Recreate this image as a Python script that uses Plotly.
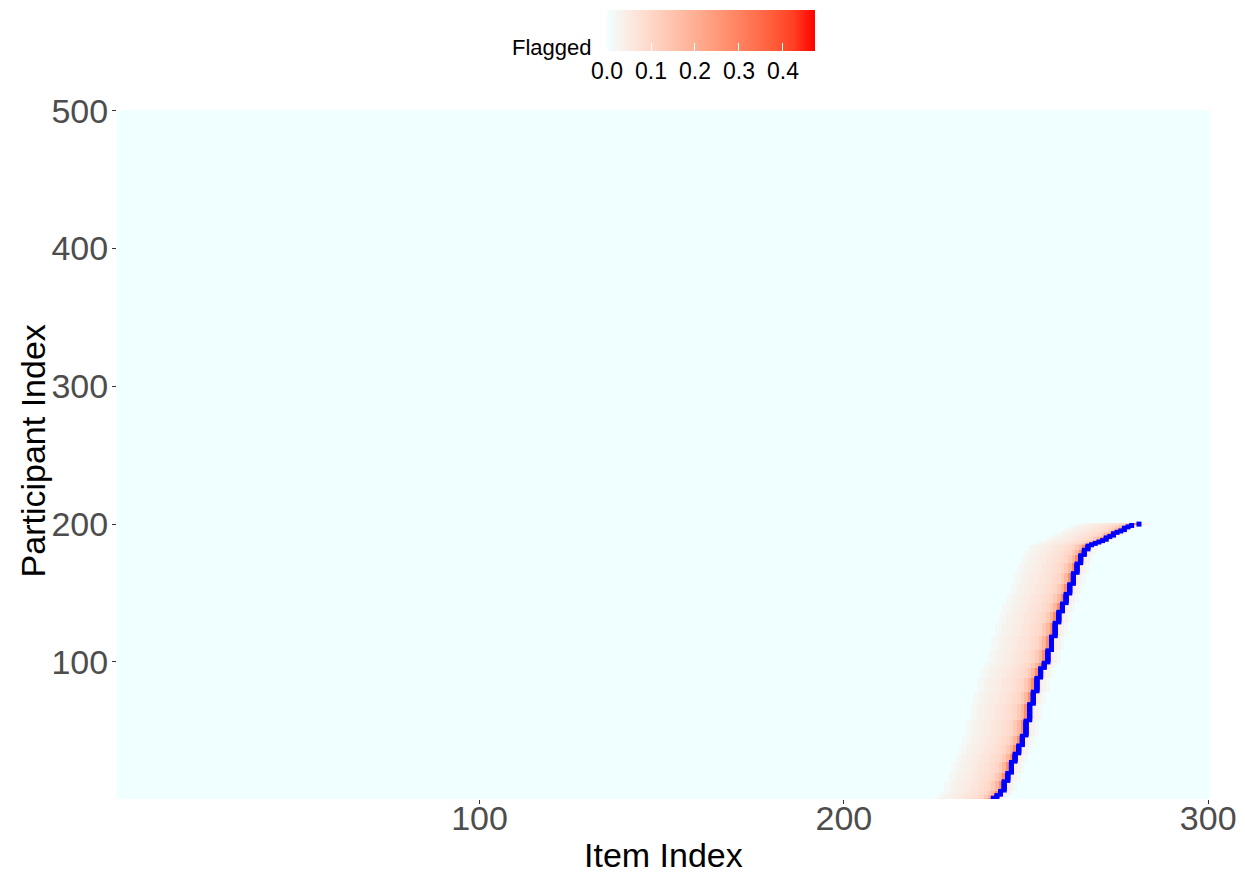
import numpy as np
import plotly.graph_objects as go

n_items = 300
n_participants = 500

# change point (item index) for participants 1..200 (blue marks)
change_points = [
    241,242,242,243,243,243,244,244,244,244,
    244,244,244,245,245,245,245,245,245,246,
    246,246,246,246,246,246,246,247,247,247,
    247,247,247,248,248,248,248,248,248,249,
    249,249,249,249,249,249,250,250,250,250,
    250,250,250,250,250,250,250,251,251,251,
    251,251,251,251,251,251,251,251,251,252,
    252,252,252,252,252,252,252,252,253,253,
    253,253,253,253,253,253,253,253,254,254,
    254,254,254,254,254,255,255,255,255,256,
    256,256,256,256,256,256,256,256,257,257,
    257,257,257,257,257,257,257,257,258,258,
    258,258,258,258,258,258,258,258,259,259,
    259,259,259,259,259,259,260,260,260,260,
    260,260,261,261,261,261,261,261,261,262,
    262,262,262,262,262,262,263,263,263,263,
    263,263,263,263,264,264,264,264,264,264,
    264,265,265,265,265,265,265,266,266,266,
    266,267,267,267,268,269,270,271,272,272,
    273,274,274,275,276,277,277,278,279,281,
]

# flagged proportion by offset from the change point (item - change point)
profile_offsets = [-16,-15,-14,-13,-12,-11,-10,-9,-8,-7,-6,-5,-4,-3,-2,-1,0,1,2,3]
profile_values = [0.015,0.02,0.03,0.035,0.04,0.045,0.05,0.06,0.065,0.07,0.08,0.09,0.1,0.13,0.18,0.28,0.35,0.05,0.03,0.015]

z = np.zeros((n_participants, n_items))
for i, cp in enumerate(change_points):
    for off, v in zip(profile_offsets, profile_values):
        j = cp + off - 1
        if 0 <= j < n_items:
            z[i, j] = v

items = list(range(1, n_items + 1))
participants = list(range(1, n_participants + 1))

# Lab-space gradient azure -> red (like ggplot scale_fill_gradient)
def srgb_to_lab(rgb):
    c = np.array(rgb) / 255.0
    c = np.where(c <= 0.04045, c / 12.92, ((c + 0.055) / 1.055) ** 2.4)
    M = np.array([[0.4124, 0.3576, 0.1805], [0.2126, 0.7152, 0.0722], [0.0193, 0.1192, 0.9505]])
    xyz = M @ c / np.array([0.95047, 1.0, 1.08883])
    f = np.where(xyz > 0.008856, np.cbrt(xyz), 7.787 * xyz + 16 / 116)
    return np.array([116 * f[1] - 16, 500 * (f[0] - f[1]), 200 * (f[1] - f[2])])

def lab_to_srgb(lab):
    L, a, b = lab
    fy = (L + 16) / 116
    fx = fy + a / 500
    fz = fy - b / 200
    f = np.array([fx, fy, fz])
    xyz = np.where(f ** 3 > 0.008856, f ** 3, (f - 16 / 116) / 7.787) * np.array([0.95047, 1.0, 1.08883])
    Minv = np.array([[3.2406, -1.5372, -0.4986], [-0.9689, 1.8758, 0.0415], [0.0557, -0.2040, 1.0570]])
    c = Minv @ xyz
    c = np.where(c <= 0.0031308, 12.92 * c, 1.055 * np.clip(c, 0, None) ** (1 / 2.4) - 0.055)
    return np.clip(np.round(c * 255), 0, 255).astype(int)

lo, hi = srgb_to_lab((240, 255, 255)), srgb_to_lab((255, 0, 0))
colorscale = []
for t in np.linspace(0, 1, 11):
    r, g, b = lab_to_srgb(lo + (hi - lo) * t)
    colorscale.append([float(t), f"rgb({r},{g},{b})"])

zmax = 0.473
FONT = "Liberation Sans, Arial, sans-serif"

fig = go.Figure()
fig.add_trace(go.Heatmap(
    x=items, y=participants, z=z, zmin=0, zmax=zmax, colorscale=colorscale,
    colorbar=dict(
        orientation="h", x=0.5435, xanchor="center", y=1.1451, yanchor="top",
        len=208, lenmode="pixels", thickness=41, thicknessmode="pixels",
        outlinewidth=0, xpad=0, ypad=0,
        tickvals=[0, 0.1, 0.2, 0.3, 0.4], ticktext=["0.0", "0.1", "0.2", "0.3", "0.4"],
        ticks="inside", ticklen=8, tickcolor="white", tickwidth=1,
        tickfont=dict(size=23, color="black", family=FONT),
    ),
    hoverinfo="skip",
))
fig.add_trace(go.Scatter(
    x=change_points, y=list(range(1, len(change_points) + 1)), mode="markers",
    marker=dict(symbol="square", size=5, color="blue", line=dict(width=0)),
    showlegend=False, hoverinfo="skip",
))

fig.add_annotation(text="Flagged", xref="paper", yref="paper", x=0.4364, y=1.0914,
                   xanchor="right", yanchor="middle", showarrow=False,
                   font=dict(size=22, color="black", family=FONT))
fig.add_annotation(text="Item Index", xref="paper", yref="paper", x=0.5, y=-0.0812,
                   xanchor="center", yanchor="middle", showarrow=False,
                   font=dict(size=34, color="black", family=FONT))
fig.add_annotation(text="Participant Index", xref="paper", yref="paper", x=-0.0765, y=0.505,
                   xanchor="center", yanchor="middle", showarrow=False, textangle=-90,
                   font=dict(size=34, color="black", family=FONT))

axis_common = dict(showgrid=False, zeroline=False, showline=False, ticks="outside",
                   ticklen=4, tickcolor="#333333", tickwidth=1, automargin=False,
                   tickfont=dict(size=34, color="#4D4D4D", family=FONT))
fig.update_xaxes(range=[0.5, 300.5], tickvals=[100, 200, 300], ticklabelstandoff=-15, **axis_common)
fig.update_yaxes(range=[0.5, 500.5], tickvals=[100, 200, 300, 400, 500], ticklabelstandoff=-3, **axis_common)

fig.update_layout(
    width=1237, height=865,
    margin=dict(l=109, r=35, t=102, b=74, autoexpand=False),
    plot_bgcolor="white", paper_bgcolor="white",
    font=dict(family=FONT),
)
fig.write_html("out.html")
